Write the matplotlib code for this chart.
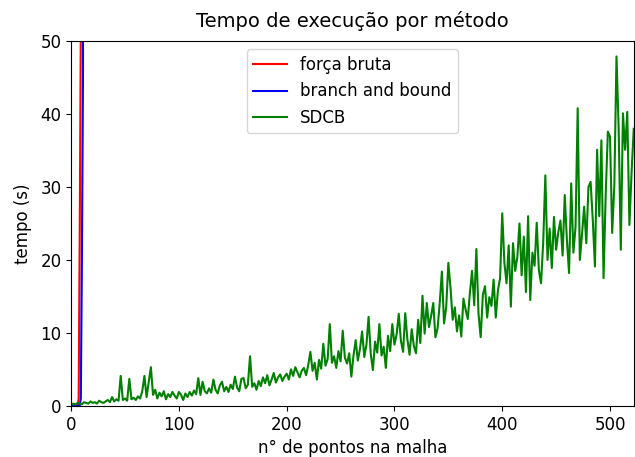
import matplotlib
matplotlib.use("Agg")
import matplotlib.pyplot as plt

# === DADOS ===
# força bruta e branch and bound: explodem logo nos primeiros pontos
n_forca = [0, 2, 4, 6, 7, 8, 9, 10]
t_forca = [0.0, 0.0, 0.0, 0.05, 1.0, 24.0, 52.0, 400.0]

n_bb = [0, 2, 4, 6, 8, 9, 10, 11, 12]
t_bb = [0.0, 0.0, 0.0, 0.0, 0.05, 1.0, 20.0, 45.0, 300.0]

# SDCB: um ponto a cada 2 pontos de malha
n_sdcb = list(range(0, 524, 2))
t_sdcb = [
    0.2, 0.3, 0.2, 0.4, 0.3, 0.2, 0.5, 0.4, 0.3, 0.6,
    0.4, 0.5, 0.3, 0.7, 0.5, 0.4, 0.6, 0.8, 0.5, 1.2,
    0.6, 0.9, 0.7, 4.1, 0.8, 1.0, 0.7, 3.7, 0.9, 1.1,
    0.8, 1.3, 1.0, 2.0, 4.1, 1.2, 3.3, 5.3, 1.5, 2.2,
    1.0, 1.8, 1.3, 2.0, 0.9, 1.6, 1.2, 1.9, 1.4, 1.0,
    1.9, 1.5, 0.8, 1.7, 1.2, 1.9, 1.4, 2.1, 1.6, 3.8,
    1.5, 3.3, 2.0, 1.7, 2.4, 1.8, 3.6, 2.2, 1.7, 2.8,
    3.3, 2.0, 2.6, 1.9, 2.9, 2.3, 4.0, 2.5, 2.0, 3.7,
    3.8, 2.4, 2.9, 6.8, 2.6, 3.1, 2.2, 3.4, 2.7, 3.9,
    3.1, 4.2, 2.8, 3.6, 4.5, 3.2, 3.9, 4.3, 3.4, 4.0,
    4.4, 3.6, 5.0, 4.1, 5.3, 4.6, 3.9, 4.8, 5.2, 4.2,
    5.6, 7.4, 4.8, 5.9, 3.6, 6.3, 5.1, 8.5, 5.5, 6.4,
    11.2, 5.9, 6.8, 5.2, 7.5, 6.1, 10.3, 6.6, 5.8, 7.2,
    4.0, 6.9, 9.0, 6.2, 7.8, 10.2, 6.7, 8.4, 12.2, 7.1,
    4.9, 8.8, 7.3, 11.2, 6.9, 8.1, 5.2, 9.6, 7.5, 11.2,
    8.4, 9.8, 12.6, 8.9, 7.4, 12.7, 9.1, 7.0, 10.5, 8.2,
    7.2, 11.8, 8.6, 15.1, 9.9, 14.1, 10.8, 12.3, 14.1, 9.4,
    10.6, 14.1, 18.4, 11.3, 13.5, 19.6, 16.2, 11.8, 13.5, 10.2,
    12.4, 9.5, 14.7, 13.2, 11.9, 15.5, 18.5, 13.8, 21.5, 12.6,
    9.4, 15.2, 16.4, 12.1, 14.9, 13.7, 17.3, 12.1, 15.8, 17.5,
    26.4, 19.6, 16.8, 22.0, 13.6, 22.3, 18.5, 20.4, 25.0, 17.9,
    23.2, 15.6, 26.0, 14.5, 21.0, 19.2, 25.1, 18.6, 16.8, 22.4,
    31.6, 20.0, 24.3, 18.9, 25.9, 21.4, 23.8, 25.4, 20.6, 28.9,
    22.7, 18.2, 30.5, 21.0, 24.5, 40.8, 20.0, 23.5, 27.3, 22.3,
    30.0, 30.7, 25.5, 19.1, 35.1, 26.0, 36.4, 17.5, 29.0, 37.6,
    36.9, 23.7, 30.2, 47.9, 38.1, 21.4, 40.1, 35.1, 40.3, 24.8,
    32.0, 38.0,
]

# === GRAFICO ===
plt.rcParams["font.size"] = 12

fig = plt.figure(figsize=(6.35, 4.57), dpi=100)
ax = fig.add_axes([0.112, 0.112, 0.886, 0.798])

ax.plot(n_forca, t_forca, color="red", label="força bruta")
ax.plot(n_bb, t_bb, color="blue", label="branch and bound")
ax.plot(n_sdcb, t_sdcb, color="green", label="SDCB")

ax.set_xlim(0, 522)
ax.set_ylim(0, 50)
ax.set_title("Tempo de execução por método", fontsize=14, pad=10)
ax.set_xlabel("n° de pontos na malha")
ax.set_ylabel("tempo (s)", labelpad=6)
ax.legend(loc="upper center")

fig.savefig("out.png", dpi=100)
